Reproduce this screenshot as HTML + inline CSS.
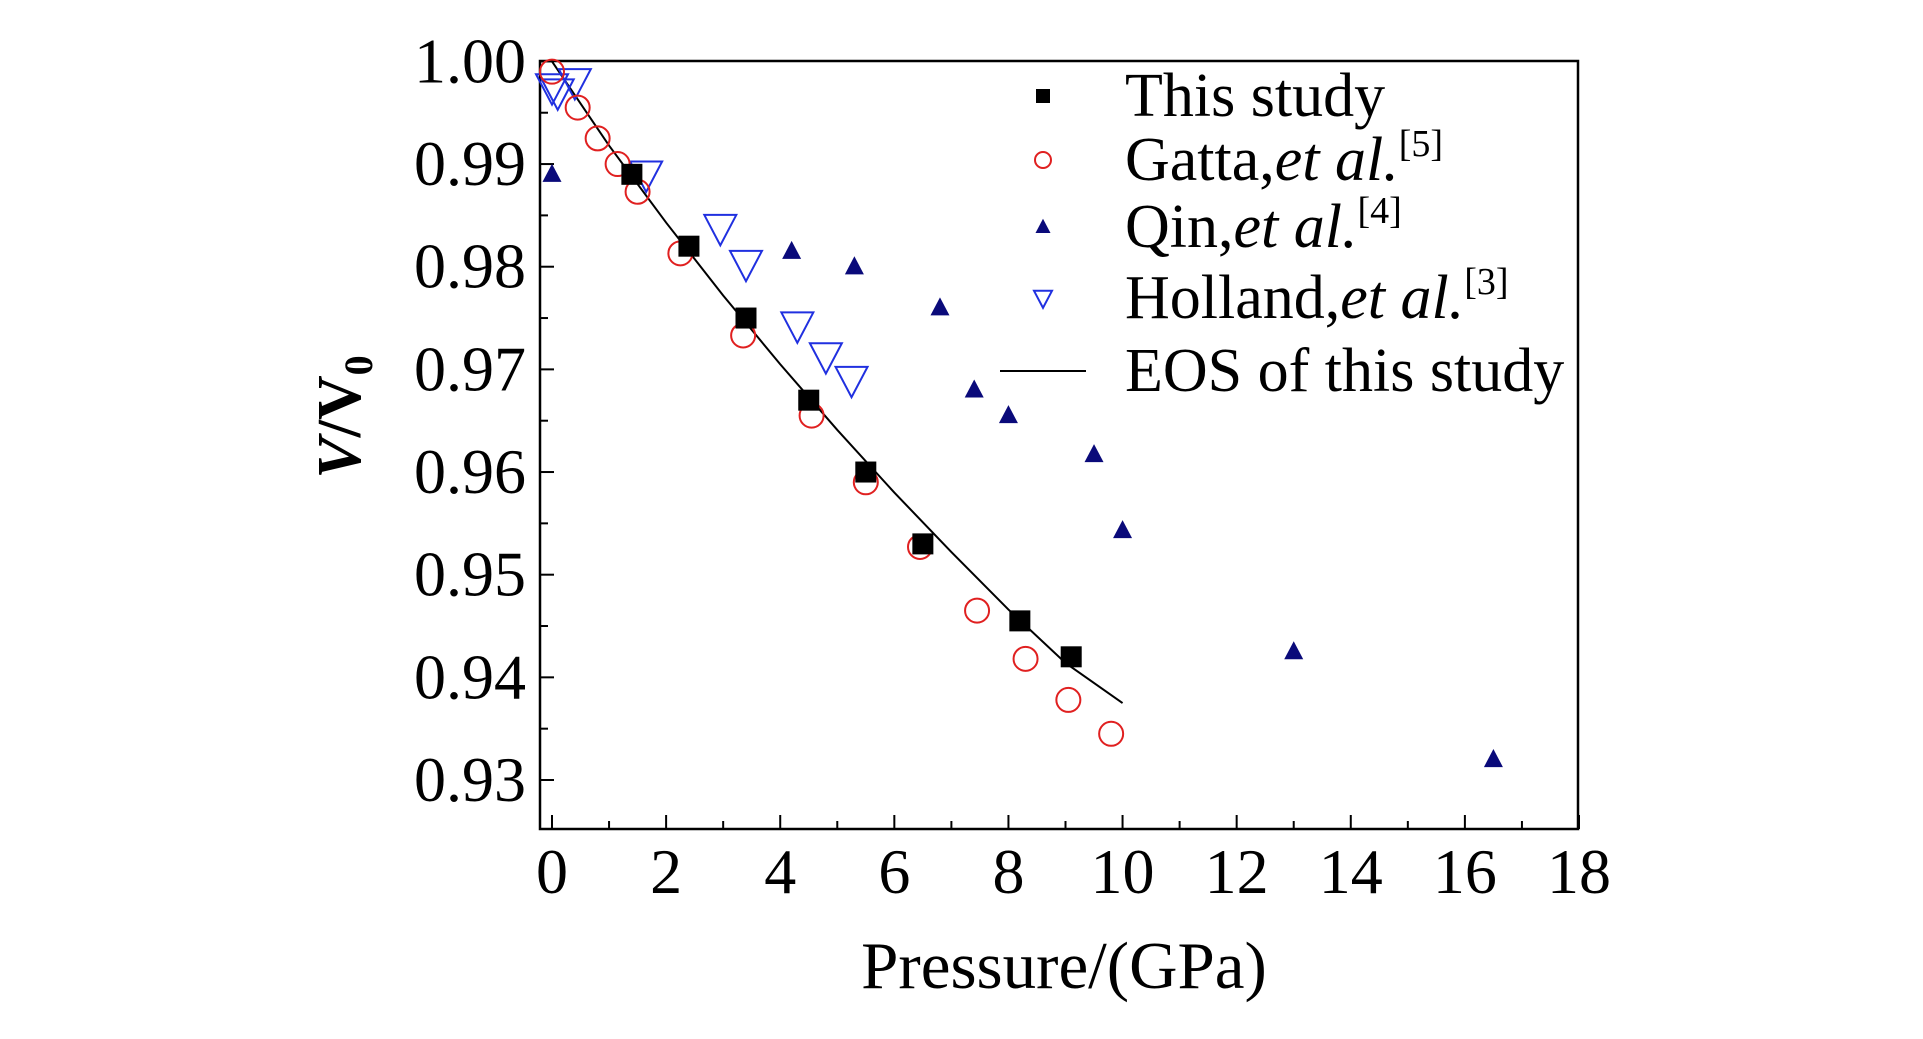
<!DOCTYPE html>
<html><head><meta charset="utf-8"><style>
html,body{margin:0;padding:0;background:#fff;}
svg{display:block;font-family:"Liberation Serif",serif;}
</style></head><body>
<svg id="chart" width="1923" height="1039" viewBox="0 0 1923 1039"></svg>
<script>
const xTicks=[0,2,4,6,8,10,12,14,16,18];
const yTicks=[0.93,0.94,0.95,0.96,0.97,0.98,0.99,1.00];
const yTickLabels=["0.93","0.94","0.95","0.96","0.97","0.98","0.99","1.00"];
const studyP=[1.4,2.4,3.4,4.5,5.5,6.5,8.2,9.1];
const studyV=[0.989,0.982,0.975,0.967,0.960,0.953,0.9455,0.942];
const gattaP=[0,0.45,0.8,1.15,1.5,2.25,3.35,4.55,5.5,6.45,7.45,8.3,9.05,9.8];
const gattaV=[0.999,0.9955,0.9925,0.990,0.9873,0.9813,0.9733,0.9655,0.959,0.9527,0.9465,0.9418,0.9378,0.9345];
const qinP=[0,4.2,5.3,6.8,7.4,8.0,9.5,10,13,16.5];
const qinV=[0.989,0.9815,0.980,0.976,0.968,0.9655,0.9617,0.9543,0.9425,0.932];
const hollP=[0,0.1,0.4,1.65,2.95,3.4,4.3,4.8,5.25];
const hollV=[0.9975,0.997,0.998,0.989,0.9838,0.9803,0.9743,0.9713,0.969];
const eosP=[0,1,2,3,4,5,6,7,8,9,10];
const eosV=[1.0,0.9918,0.9843,0.9772,0.9705,0.9641,0.9580,0.9522,0.9466,0.9414,0.9375];

const NS="http://www.w3.org/2000/svg";
const svg=document.getElementById('chart');
const L=540,R=1578,T=61,B=829;
const X0=552,XS=(1579-552)/18;
const Y1=61.4,YS=(780-61.4)/0.07;
const xs=p=>X0+p*XS;
const ys=v=>Y1+(1.0-v)*YS;
function mk(tag,attrs,parent){const e=document.createElementNS(NS,tag);for(const k in attrs)e.setAttribute(k,attrs[k]);(parent||svg).appendChild(e);return e;}

const frame=mk('rect',{x:L,y:T,width:R-L,height:B-T,fill:'none',stroke:'#000','stroke-width':2.5});



for(let p=0;p<=18;p++){
  const major=p%2===0;
  const t=mk('line',{x1:xs(p),x2:xs(p),y1:B,y2:B-(major?14:8),stroke:'#000','stroke-width':2});
  
  
}
xTicks.forEach(p=>{
  const t=mk('text',{x:xs(p),y:893,'font-size':64,'text-anchor':'middle'});
  t.textContent=String(p);
  
  
});
for(let i=0;i<=14;i++){
  const v=0.93+i*0.005; const major=i%2===0;
  const t=mk('line',{x1:L,x2:L+(major?14:8),y1:ys(v),y2:ys(v),stroke:'#000','stroke-width':2});
  
  
}
yTicks.forEach((v,i)=>{
  const t=mk('text',{x:526,y:ys(v)+21,'font-size':64,'text-anchor':'end'});
  t.textContent=yTickLabels[i];
  
  
});
const xt=mk('text',{x:1064,y:988,'font-size':67,'text-anchor':'middle'});
xt.textContent='Pressure/(GPa)';


const yt=mk('text',{transform:'translate(360,417) rotate(-90)','font-size':62,'text-anchor':'middle','font-weight':'bold'});
yt.innerHTML='<tspan font-style="italic">V</tspan>/V<tspan font-size="40" dy="12">0</tspan>';



let d='';eosP.forEach((p,i)=>{d+=(i?'L':'M')+xs(p)+','+ys(eosV[i]);});
const eos=mk('path',{d:d,fill:'none',stroke:'#000','stroke-width':2});



function sq(cx,cy,s){return mk('rect',{x:cx-s/2,y:cy-s/2,width:s,height:s,fill:'#000'});}
function circ(cx,cy,r){return mk('circle',{cx:cx,cy:cy,r:r,fill:'none',stroke:'#e02020','stroke-width':2});}
function triUp(cx,cy,s){return mk('polygon',{points:`${cx},${cy-s*0.55} ${cx-s/2},${cy+s*0.4} ${cx+s/2},${cy+s*0.4}`,fill:'#0a0a7a'});}
function triDn(cx,cy,s){return mk('polygon',{points:`${cx-s/2},${cy-s*0.4} ${cx+s/2},${cy-s*0.4} ${cx},${cy+s*0.55}`,fill:'none',stroke:'#2030e0','stroke-width':2});}

hollP.forEach((p,i)=>{const e=triDn(xs(p),ys(hollV[i]),32);
  
  });
qinP.forEach((p,i)=>{const e=triUp(xs(p),ys(qinV[i]),19);
  
  });
gattaP.forEach((p,i)=>{const e=circ(xs(p),ys(gattaV[i]),12);
  
  });
studyP.forEach((p,i)=>{const e=sq(xs(p),ys(studyV[i]),21);
  
  });

const lg=mk('g',{});


const rows=[96,160,227,298,371];
let e;
e=sq(1043,rows[0],14);lg.appendChild(e);
e=circ(1043,rows[1],8);lg.appendChild(e);
e=triUp(1043,rows[2],15);lg.appendChild(e);
e=triDn(1043,rows[3],18);lg.appendChild(e);
e=mk('line',{x1:1000,x2:1086,y1:rows[4],y2:rows[4],stroke:'#000','stroke-width':2},lg);
const labels=['This study','Gatta,<tspan font-style="italic">et al.</tspan><tspan font-size="38" dy="-24">[5]</tspan>','Qin,<tspan font-style="italic">et al.</tspan><tspan font-size="38" dy="-24">[4]</tspan>','Holland,<tspan font-style="italic">et al.</tspan><tspan font-size="38" dy="-24">[3]</tspan>','EOS of this study'];
labels.forEach((s,i)=>{const t=mk('text',{x:1125,y:rows[i]+20,'font-size':62},lg);t.innerHTML=s;
  
  });
</script>
</body></html>
